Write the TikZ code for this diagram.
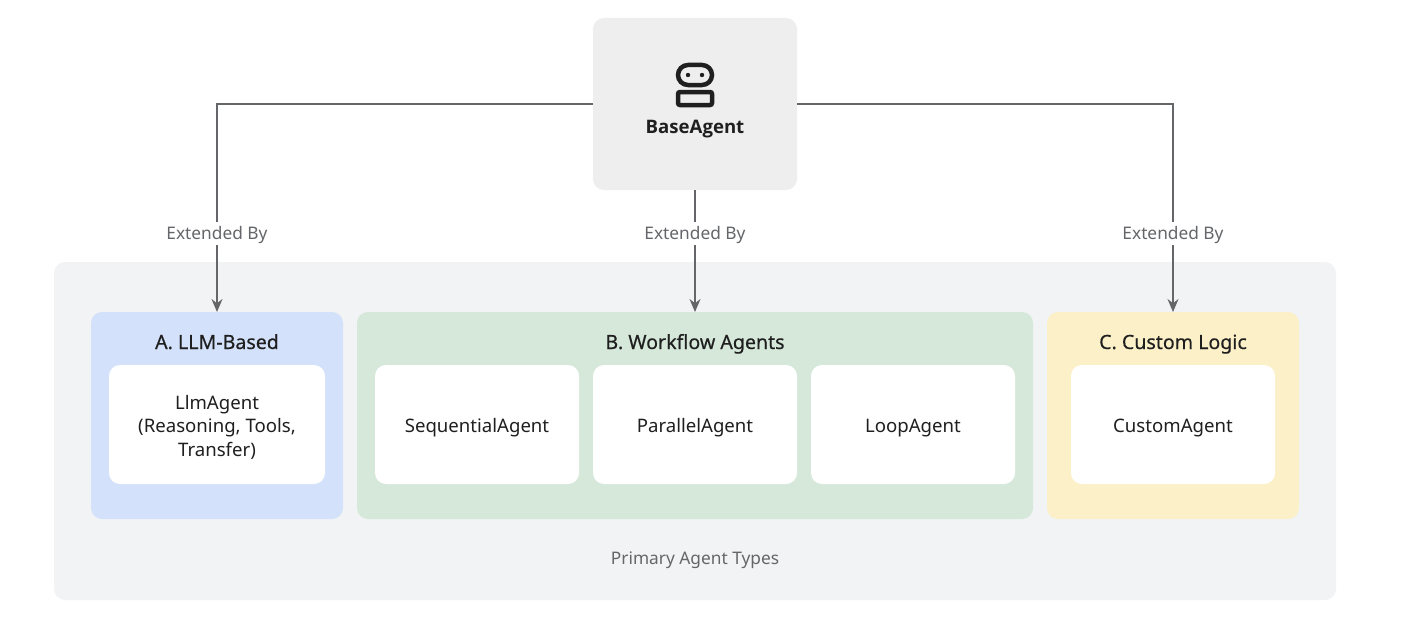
\documentclass[tikz,border=0pt]{standalone}
\usepackage{fontspec}
\setmainfont{Noto Sans}
\newfontfamily\semifont[FakeBold=0.4]{Noto Sans}
\newfontfamily\heavyfont{Open Sans}
\usetikzlibrary{arrows.meta,positioning}
\definecolor{basegray}{HTML}{EEEEEE}
\definecolor{outergray}{HTML}{F1F3F4}
\definecolor{llmblue}{HTML}{D3E1FA}
\definecolor{flowgreen}{HTML}{D5E8DA}
\definecolor{logicyellow}{HTML}{FCF0C9}
\definecolor{linegray}{HTML}{646669}
\definecolor{inkdark}{HTML}{1F1F1F}

\begin{document}
\begin{tikzpicture}[x=1pt,y=-1pt,>={Stealth[length=13pt,width=11pt]},node distance=218pt,
                    line width=1.4pt]
  \tikzstyle{panel}=[draw=none,rounded corners=11pt,inner sep=0pt,outer sep=0pt]
  \tikzstyle{group}=[panel,minimum height=207pt,minimum width=252pt]
  \tikzstyle{agent}=[panel,fill=white,minimum height=119pt,minimum width=204pt,text=inkdark,
                     align=center,font=\fontsize{18.6}{23.5}\selectfont,
                     execute at begin node=\rule{0pt}{20pt}]
  \tikzstyle{grouptitle}=[text=inkdark,text height=18pt,text depth=4pt,inner sep=0pt,
                          font=\fontsize{19.6}{22}\semifont]
  \tikzstyle{link}=[draw=linegray,->]
  \tikzstyle{linklabel}=[fill=white,text=linegray,text height=16pt,text depth=4pt,
                         inner xsep=3pt,inner ysep=1.5pt,font=\fontsize{17.3}{20}\selectfont]
  \tikzstyle{face}=[draw=inkdark,line width=4.5pt]

  \useasboundingbox (0,0) rectangle (1408,642);

  \node[panel,fill=outergray,minimum width=1282pt,minimum height=338pt] (types) at (695,431) {};
  \node[text=linegray,text height=16pt,text depth=4pt,inner sep=0pt,
        font=\fontsize{17.3}{20}\selectfont] (typestitle) at (695,558) {Primary Agent Types};

  \node[panel,fill=basegray,minimum width=204pt,minimum height=172pt] (base) at (695,104) {};
  \node[text=inkdark,text height=18pt,text depth=4pt,inner sep=0pt,
        font=\heavyfont\bfseries\fontsize{18.6}{22}\selectfont] (basetitle) at (695,126) {BaseAgent};
  \draw[face,rounded corners=10pt] (678,65) rectangle (712,85);
  \draw[face,rounded corners=2pt] (678,92) rectangle (712,105);
  \fill[inkdark] (688,75) circle (2.2pt) (702,75) circle (2.2pt);

  \node[group,fill=llmblue] (llm) at (217,415.5) {};
  \node[group,fill=flowgreen,minimum width=676pt] (flow) at (695,415.5) {};
  \node[group,fill=logicyellow] (logic) at (1173,415.5) {};

  \node[grouptitle] (llmtitle) at (217,342) {A. LLM-Based};
  \node[grouptitle] (flowtitle) at (695,342) {B. Workflow Agents};
  \node[grouptitle] (logictitle) at (1173,342) {C. Custom Logic};

  \node[agent,minimum width=216pt] (llmagent) at (217,424.5) {};
  \node[agent,fill=none,minimum width=0pt,minimum height=0pt,yshift=-2.7pt] (llmtext) at (llmagent)
       {LlmAgent\\(Reasoning, Tools,\\Transfer)};
  \node[agent] (seq) at (477,424.5) {SequentialAgent};
  \node[agent] (par) [right of=seq] {ParallelAgent};
  \node[agent] (loop) [right of=par] {LoopAgent};
  \node[agent] (custom) at (1173,424.5) {CustomAgent};

  \path[link] (base.west) -| node[linklabel,pos=0.812] {Extended By} (llm.north);
  \path[link] (base.south) -- node[linklabel,pos=0.355] {Extended By} (flow.north);
  \path[link] (base.east) -| node[linklabel,pos=0.812] {Extended By} (logic.north);
\end{tikzpicture}
\end{document}
